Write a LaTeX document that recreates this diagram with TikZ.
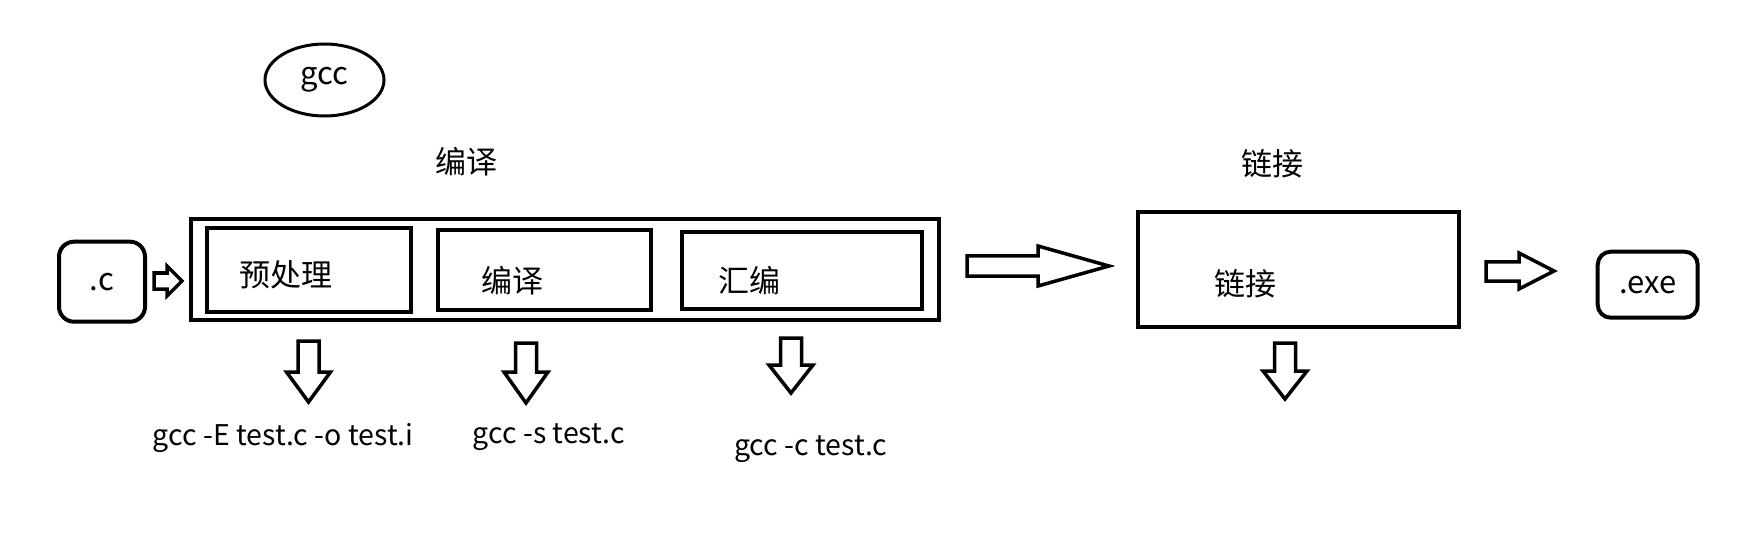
\documentclass[tikz,border=0pt]{standalone}
\usepackage{fontspec}
\setmainfont{Noto Sans CJK SC}
\usetikzlibrary{shapes.geometric}

\begin{document}
\begin{tikzpicture}[x=1pt,y=-1pt,
        every node/.style={font=\fontsize{31}{36}\selectfont, inner sep=0pt},
        cmd/.style={anchor=base, font=\fontsize{28.5}{34}\selectfont},
        box/.style={draw, line width=4pt},
        hollow/.style={draw, line width=3.5pt, line join=miter, fill=white}]
                \useasboundingbox (0,0) rectangle (1747,545);

                \node[draw, ellipse, line width=3pt, minimum width=119pt, minimum height=72pt] (gcc) at (324.5,80) {gcc};
                \node (titlecmp) at (466.7,162) {编译};
                \node (titlelink) at (1272.8,164) {链接};

                \node[box, rounded corners=15pt, minimum width=86pt, minimum height=80pt] (src) at (102,281.7) {.c};
                \node[box, minimum width=748pt, minimum height=100.5pt] (compile) at (564.9,269.3) {};
                \node[box, minimum width=204pt, minimum height=84pt] (pre) at (308.7,270) {};
                \node[box, minimum width=213pt, minimum height=80pt] (cmp) at (544.2,270) {};
                \node[box, minimum width=240pt, minimum height=77.3pt] (asm) at (802.3,270.4) {};
                \node[box, minimum width=320.7pt, minimum height=114.4pt] (link) at (1298.7,269.5) {};
                \node[box, rounded corners=13pt, minimum width=100pt, minimum height=66pt] (exe) at (1647.7,284.7) {.exe};

                \node (pretext) at (286.2,274.7) {预处理};
                \node (cmptext) at (512.3,281) {编译};
                \node (asmtext) at (749.2,281) {汇编};
                \node (linktext) at (1245.8,283.3) {链接};

                \draw[hollow] (154,273) -- (167,273) -- (167,266) -- (182,281) -- (167,296) -- (167,289) -- (154,289) -- cycle;
                \draw[hollow] (967,256) -- (1038,256) -- (1038,246) -- (1109,266) -- (1038,286) -- (1038,276) -- (967,276) -- cycle;
                \draw[hollow] (1486,262) -- (1519,262) -- (1519,253) -- (1554,271) -- (1519,289) -- (1519,281) -- (1486,281) -- cycle;

                \foreach \cx/\ya/\yb/\yc in {308.5/341/372/402, 526/343/372/403, 791/338/365/393, 1285/343/371/399} {
                    \draw[hollow] (\cx-10.5,\ya) -- (\cx+10.5,\ya) -- (\cx+10.5,\yb) -- (\cx+22,\yb) -- (\cx,\yc) -- (\cx-22,\yb) -- (\cx-10.5,\yb) -- cycle;
                }

                \node[cmd] (cmdpre) at (283.3,445) {gcc -E test.c -o test.i};
                \node[cmd] (cmdcmp) at (548.7,443.3) {gcc -s test.c};
                \node[cmd] (cmdasm) at (810.8,455) {gcc -c test.c};
\end{tikzpicture}
\end{document}
